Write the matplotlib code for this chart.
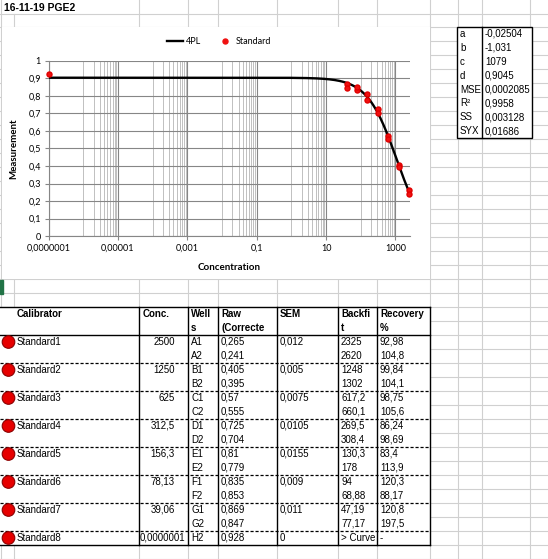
import matplotlib.pyplot as plt
import numpy as np
from matplotlib.patches import Rectangle, Circle
from matplotlib.lines import Line2D
from matplotlib.ticker import FixedLocator, FixedFormatter, NullFormatter

# fit parameters (box at the right)
param_names = ['a', 'b', 'c', 'd', 'MSE', 'R²', 'SS', 'SYX']
param_text = ['-0,02504', '-1,031', '1079', '0,9045', '0,0002085', '0,9958', '0,003128', '0,01686']
fit_a, fit_b, fit_c, fit_d = -0.02504, -1.031, 1079, 0.9045

# calibrator table
calibrators = ['Standard1', 'Standard2', 'Standard3', 'Standard4',
               'Standard5', 'Standard6', 'Standard7', 'Standard8']
conc = [2500, 1250, 625, 312.5, 156.3, 78.13, 39.06, 0.0000001]
conc_text = ['2500', '1250', '625', '312,5', '156,3', '78,13', '39,06', '0,0000001']
wells = [['A1', 'A2'], ['B1', 'B2'], ['C1', 'C2'], ['D1', 'D2'],
         ['E1', 'E2'], ['F1', 'F2'], ['G1', 'G2'], ['H2']]
raw = [[0.265, 0.241], [0.405, 0.395], [0.57, 0.555], [0.725, 0.704],
       [0.81, 0.779], [0.835, 0.853], [0.869, 0.847], [0.928]]
sem = ['0,012', '0,005', '0,0075', '0,0105', '0,0155', '0,009', '0,011', '0']
backfit = [['2325', '2620'], ['1248', '1302'], ['617,2', '660,1'], ['269,5', '308,4'],
           ['130,3', '178'], ['94', '68,88'], ['47,19', '77,17'], ['> Curve']]
recovery = [['92,98', '104,8'], ['99,84', '104,1'], ['98,75', '105,6'], ['86,24', '98,69'],
            ['83,4', '113,9'], ['120,3', '88,17'], ['120,8', '197,5'], ['-']]

x_ticks = [1e-7, 1e-5, 1e-3, 1e-1, 10, 1000]
x_ticklabels = ['0,0000001', '0,00001', '0,001', '0,1', '10', '1000']
y_ticks = [0, 0.1, 0.2, 0.3, 0.4, 0.5, 0.6, 0.7, 0.8, 0.9, 1]
y_ticklabels = ['0', '0,1', '0,2', '0,3', '0,4', '0,5', '0,6', '0,7', '0,8', '0,9', '1']

W, H = 548, 559
sheet_font = 'Liberation Sans'
chart_font = 'Lato'
grid_gray = '#d0d0d0'

fig = plt.figure(figsize=(W / 100, H / 100), dpi=100)

# spreadsheet background, in pixel coordinates
bg = fig.add_axes([0, 0, 1, 1])
bg.set_xlim(0, W)
bg.set_ylim(H, 0)
bg.axis('off')

col_x = [0.5, 14, 139, 188, 218, 277, 338, 377, 430, 458, 482, 530]
row_y = [14] + [27 + 14 * k for k in range(39)]
for x in col_x:
    bg.plot([x, x], [14 if x == 14 else 0, H], color=grid_gray, lw=0.8, zorder=0)
for y in row_y:
    bg.plot([0, W], [y, y], color=grid_gray, lw=0.8, zorder=0)
bg.add_patch(Rectangle((0, 280), 2.5, 14, color='#217346', zorder=1))

bg.text(4, 8, '16-11-19 PGE2', fontsize=7.5, fontweight='bold', family=sheet_font,
        va='center', ha='left', zorder=2)

# chart area
bg.add_patch(Rectangle((2, 27), 428, 252, facecolor='white', edgecolor='none', zorder=1))

# parameter box
bg.add_patch(Rectangle((457, 27), 75, 111, facecolor='white', edgecolor='black', lw=1, zorder=2))
bg.plot([482, 482], [27, 138], color='black', lw=1, zorder=3)
for i, (n, v) in enumerate(zip(param_names, param_text)):
    yc = 34 + 13.9 * i
    bg.text(460, yc, n, fontsize=7, family=sheet_font, va='center', zorder=3)
    bg.text(485, yc, v, fontsize=7, family=sheet_font, va='center', zorder=3)

# data table
t_top, t_head, row_h = 307, 335, 14
t_bot = t_head + row_h * 15
bg.add_patch(Rectangle((0, t_top), 430, t_bot - t_top, facecolor='white', edgecolor='none', zorder=1))
for x in [139, 188, 218, 277, 338, 377, 430]:
    bg.plot([x, x], [t_top, t_bot], color='black', lw=1, zorder=3)
for y in [t_top, t_head, t_bot]:
    bg.plot([0, 430], [y, y], color='black', lw=1, zorder=3)

headers = [(17, 'Calibrator', ''), (143, 'Conc.', ''), (191, 'Well', 's'),
           (221, 'Raw', '(Correcte'), (280, 'SEM', ''), (341, 'Backfi', 't'),
           (380, 'Recovery', '%')]
for hx, l1, l2 in headers:
    bg.text(hx, 314, l1, fontsize=7, fontweight='bold', family=sheet_font, va='center', zorder=3)
    if l2:
        bg.text(hx, 328, l2, fontsize=7, fontweight='bold', family=sheet_font, va='center', zorder=3)

row = 0
for g, name in enumerate(calibrators):
    y0 = t_head + row * row_h
    if g > 0:
        bg.plot([0, 430], [y0, y0], color='black', lw=0.9, ls=(0, (2.5, 1.5)), zorder=3)
    yc = y0 + row_h / 2
    bg.add_patch(Circle((8.5, yc), 6.3, facecolor='#e60000', edgecolor='#8b0000', lw=0.8, zorder=3))
    bg.text(17, yc, name, fontsize=7, family=sheet_font, va='center', zorder=3)
    bg.text(185 if len(conc_text[g]) > 6 else 175, yc, conc_text[g], fontsize=7,
            family=sheet_font, va='center', ha='right', zorder=3)
    bg.text(280, yc, sem[g], fontsize=7, family=sheet_font, va='center', zorder=3)
    for k in range(len(wells[g])):
        yk = yc + k * row_h
        bg.text(191, yk, wells[g][k], fontsize=7, family=sheet_font, va='center', zorder=3)
        bg.text(221, yk, f'{raw[g][k]:g}'.replace('.', ','), fontsize=7, family=sheet_font,
                va='center', zorder=3)
        bg.text(341, yk, backfit[g][k], fontsize=7, family=sheet_font, va='center', zorder=3)
        bg.text(380, yk, recovery[g][k], fontsize=7, family=sheet_font, va='center', zorder=3)
    row += len(wells[g])

# the chart itself
px_l, px_r, px_t, px_b = 48.5, 410, 61, 236
ax = fig.add_axes([px_l / W, 1 - px_b / H, (px_r - px_l) / W, (px_b - px_t) / H])
ax.set_xscale('log')
ax.set_xlim(1e-7, 10 ** 3.42)
ax.set_ylim(0, 1)

xs = np.logspace(-7, np.log10(max(conc)), 500)
ys = fit_d + (fit_a - fit_d) / (1 + (xs / fit_c) ** fit_b)
ax.plot(xs, ys, color='black', lw=1.7, zorder=3)

pts_x = [c for c, r in zip(conc, raw) for _ in r]
pts_y = [v for r in raw for v in r]
ax.plot(pts_x, pts_y, ls='none', marker='o', ms=3.6, color='#f01010', mec='#e00000',
        zorder=4, clip_on=False)

minor_x = [k * 10.0 ** e for e in (-6, -4, -2, 0, 2) for k in range(1, 10)]
ax.xaxis.set_major_locator(FixedLocator(x_ticks))
ax.xaxis.set_major_formatter(FixedFormatter(x_ticklabels))
ax.xaxis.set_minor_locator(FixedLocator(minor_x))
ax.xaxis.set_minor_formatter(NullFormatter())
ax.set_yticks(y_ticks)
ax.set_yticklabels(y_ticklabels)

ax.grid(which='major', color='#868686', lw=0.8)
ax.grid(which='minor', axis='x', color='#c0c0c0', lw=0.7)
ax.set_axisbelow(True)
ax.tick_params(which='major', length=3, width=0.8, color='#868686', labelsize=6.5, pad=2.5)
ax.tick_params(which='minor', length=0)
for lab in ax.get_xticklabels() + ax.get_yticklabels():
    lab.set_family(chart_font)

for s in ['top', 'right']:
    ax.spines[s].set_visible(False)
for s in ['left', 'bottom']:
    ax.spines[s].set_color('#868686')
    ax.spines[s].set_linewidth(0.8)

ax.set_xlabel('Concentration', fontsize=7, fontweight='bold', family=chart_font)
ax.set_ylabel('Measurement', fontsize=7, fontweight='bold', family=chart_font)
ax.xaxis.set_label_coords((229 - px_l) / (px_r - px_l), -(263 - px_b) / (px_b - px_t))
ax.yaxis.set_label_coords(-(px_l - 18) / (px_r - px_l), 0.5)

handles = [Line2D([], [], color='black', lw=1.7),
           Line2D([], [], ls='none', marker='o', ms=3.6, color='#f01010')]
fig.legend(handles, ['4PL', 'Standard'], loc='center', bbox_to_anchor=(219 / W, 1 - 42 / H),
           ncol=2, frameon=False, prop={'family': chart_font, 'size': 6.5},
           handlelength=1.8, handletextpad=0.3, columnspacing=1.8)

fig.savefig('out.png', dpi=100)
